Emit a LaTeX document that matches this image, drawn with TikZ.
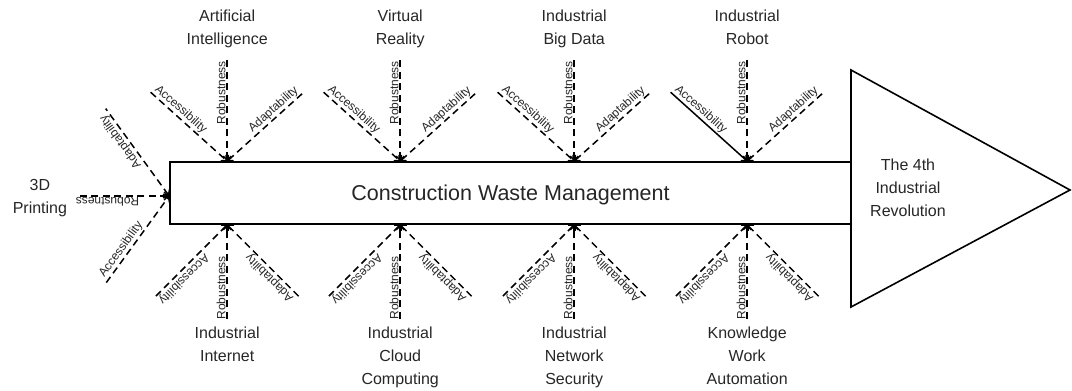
\documentclass[tikz,border=0pt]{standalone}
\usepackage{fontspec}
\setmainfont{Liberation Sans}
\usetikzlibrary{positioning, arrows.meta, calc}

\begin{document}
\begin{tikzpicture}[
    x=1pt, y=1pt,
    >={Straight Barb[length=4pt, width=8pt]},
    % Styles
    spine/.style={
        rectangle,
        draw,
        line width=1.6pt,
        minimum width=681pt,
        minimum height=62pt,
        inner sep=0pt,
        text depth=0pt,
        text=black!85,
        font=\fontsize{21.5}{26}\selectfont
    },
    goal/.style={
        draw,
        line width=1.6pt
    },
    topic/.style={
        align=center,
        inner sep=0pt,
        text depth=0pt,
        text=black!85,
        font=\fontsize{16}{23}\selectfont
    },
    branch/.style={
        line width=1.5pt,
        dash pattern=on 7pt off 4.5pt
    },
    solidbranch/.style={
        line width=1.5pt
    },
    aspect/.style={
        sloped,
        allow upside down,
        above,
        inner sep=1pt,
        text=black!85,
        font=\fontsize{12}{14}\selectfont
    }
]
    \useasboundingbox (0,0) rectangle (1072,391);

    % Fish body and head
    \node[spine] (cwm) at (510.5,198) {Construction Waste Management};
    \coordinate (tritop) at (851,321);
    \coordinate (tribot) at (851,84);
    \coordinate (tip) at (1070,201);
    \draw[goal] (tritop) -- (tip) -- (tribot) -- cycle;
    \node[topic] (rev) at (908,203) {The 4th\\Industrial\\Revolution};

    % Attach points
    \coordinate (ai) at ([xshift=58pt]cwm.north west);
    \coordinate (vr) at ([xshift=231pt]cwm.north west);
    \coordinate (bd) at ([xshift=405pt]cwm.north west);
    \coordinate (ir) at ([xshift=578pt]cwm.north west);
    \coordinate (ii) at ([xshift=58pt]cwm.south west);
    \coordinate (cc) at ([xshift=231pt]cwm.south west);
    \coordinate (ns) at ([xshift=405pt]cwm.south west);
    \coordinate (kw) at ([xshift=578pt]cwm.south west);
    \coordinate (pr) at ([yshift=-3pt]cwm.west);

    % Branch ends
    \coordinate (ai-acc) at ($(ai)+(138:103)$);
    \coordinate (ai-rob) at ($(ai)+(90:102)$);
    \coordinate (ai-ada) at ($(ai)+(42:103)$);
    \coordinate (vr-acc) at ($(vr)+(138:103)$);
    \coordinate (vr-rob) at ($(vr)+(90:102)$);
    \coordinate (vr-ada) at ($(vr)+(42:103)$);
    \coordinate (bd-acc) at ($(bd)+(138:103)$);
    \coordinate (bd-rob) at ($(bd)+(90:102)$);
    \coordinate (bd-ada) at ($(bd)+(42:103)$);
    \coordinate (ir-acc) at ($(ir)+(138:103)$);
    \coordinate (ir-rob) at ($(ir)+(90:102)$);
    \coordinate (ir-ada) at ($(ir)+(42:103)$);
    \coordinate (ii-acc) at ($(ii)+(225:103)$);
    \coordinate (ii-rob) at ($(ii)+(270:94)$);
    \coordinate (ii-ada) at ($(ii)+(315:101)$);
    \coordinate (cc-acc) at ($(cc)+(225:103)$);
    \coordinate (cc-rob) at ($(cc)+(270:94)$);
    \coordinate (cc-ada) at ($(cc)+(315:101)$);
    \coordinate (ns-acc) at ($(ns)+(225:103)$);
    \coordinate (ns-rob) at ($(ns)+(270:94)$);
    \coordinate (ns-ada) at ($(ns)+(315:101)$);
    \coordinate (kw-acc) at ($(kw)+(225:103)$);
    \coordinate (kw-rob) at ($(kw)+(270:94)$);
    \coordinate (kw-ada) at ($(kw)+(315:101)$);
    \coordinate (pr-acc) at ($(pr)+(234:107)$);
    \coordinate (pr-rob) at ($(pr)+(180:92)$);
    \coordinate (pr-ada) at ($(pr)+(126:108)$);

    % Topics
    \node[topic, above=14pt of ai-rob] (ai-lbl) {Artificial\\Intelligence};
    \node[topic, above=14pt of vr-rob] (vr-lbl) {Virtual\\Reality};
    \node[topic, above=14pt of bd-rob] (bd-lbl) {Industrial\\Big Data};
    \node[topic, above=14pt of ir-rob] (ir-lbl) {Industrial\\Robot};
    \node[topic, below=8pt of ii-rob] (ii-lbl) {Industrial\\Internet};
    \node[topic, below=8pt of cc-rob] (cc-lbl) {Industrial\\Cloud\\Computing};
    \node[topic, below=8pt of ns-rob] (ns-lbl) {Industrial\\Network\\Security};
    \node[topic, below=8pt of kw-rob] (kw-lbl) {Knowledge\\Work\\Automation};
    \node[topic, left=10pt of pr-rob] (pr-lbl) {3D\\Printing};

    % Top branches
    \draw[branch, ->] (ai-acc) -- node[aspect, pos=0.33] {Accessibility} (ai);
    \draw[branch, <-] (ai) -- node[aspect, pos=0.67] {Robustness} (ai-rob);
    \draw[branch, <-] (ai) -- node[aspect, pos=0.67] {Adaptability} (ai-ada);
    \draw[branch, ->] (vr-acc) -- node[aspect, pos=0.33] {Accessibility} (vr);
    \draw[branch, <-] (vr) -- node[aspect, pos=0.67] {Robustness} (vr-rob);
    \draw[branch, <-] (vr) -- node[aspect, pos=0.67] {Adaptability} (vr-ada);
    \draw[branch, ->] (bd-acc) -- node[aspect, pos=0.33] {Accessibility} (bd);
    \draw[branch, <-] (bd) -- node[aspect, pos=0.67] {Robustness} (bd-rob);
    \draw[branch, <-] (bd) -- node[aspect, pos=0.67] {Adaptability} (bd-ada);
    \draw[solidbranch, ->] (ir-acc) -- node[aspect, pos=0.33] {Accessibility} (ir);
    \draw[branch, <-] (ir) -- node[aspect, pos=0.67] {Robustness} (ir-rob);
    \draw[branch, <-] (ir) -- node[aspect, pos=0.67] {Adaptability} (ir-ada);

    % Bottom branches
    \draw[branch, <-] (ii) -- node[aspect, pos=0.67] {Accessibility} (ii-acc);
    \draw[branch, ->] (ii-rob) -- node[aspect, pos=0.33] {Robustness} (ii);
    \draw[branch, ->] (ii-ada) -- node[aspect, pos=0.33] {Adaptability} (ii);
    \draw[branch, <-] (cc) -- node[aspect, pos=0.67] {Accessibility} (cc-acc);
    \draw[branch, ->] (cc-rob) -- node[aspect, pos=0.33] {Robustness} (cc);
    \draw[branch, ->] (cc-ada) -- node[aspect, pos=0.33] {Adaptability} (cc);
    \draw[branch, <-] (ns) -- node[aspect, pos=0.67] {Accessibility} (ns-acc);
    \draw[branch, ->] (ns-rob) -- node[aspect, pos=0.33] {Robustness} (ns);
    \draw[branch, ->] (ns-ada) -- node[aspect, pos=0.33] {Adaptability} (ns);
    \draw[branch, <-] (kw) -- node[aspect, pos=0.67] {Accessibility} (kw-acc);
    \draw[branch, ->] (kw-rob) -- node[aspect, pos=0.33] {Robustness} (kw);
    \draw[branch, ->] (kw-ada) -- node[aspect, pos=0.33] {Adaptability} (kw);

    % Tail branches
    \draw[branch, ->] (pr-acc) -- node[aspect, pos=0.33] {Accessibility} (pr);
    \draw[branch, <-] (pr) -- node[aspect, pos=0.67] {Robustness} (pr-rob);
    \draw[branch, <-] (pr) -- node[aspect, pos=0.67] {Adaptability} (pr-ada);
\end{tikzpicture}
\end{document}
